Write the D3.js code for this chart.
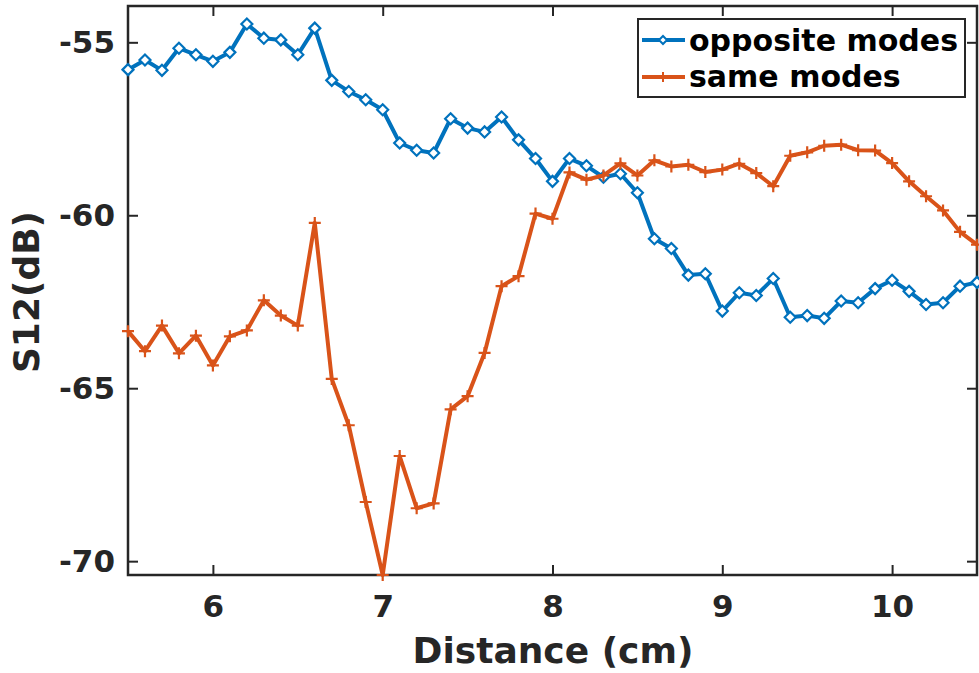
<!DOCTYPE html>
<html>
<head>
<meta charset="utf-8">
<script src="https://cdn.jsdelivr.net/npm/d3@7"></script>
<style>
  body { margin: 0; background: #fff; }
  svg { display: block; font-family: 'DejaVu Sans', sans-serif; font-weight: bold; }
</style>
</head>
<body>
<script>
/*
 * S12 vs distance, two mode configurations.
 */

const distances = [
  5.5, 5.6, 5.7, 5.8, 5.9, 6.0, 6.1, 6.2, 6.3, 6.4,
  6.5, 6.6, 6.7, 6.8, 6.9, 7.0, 7.1, 7.2, 7.3, 7.4,
  7.5, 7.6, 7.7, 7.8, 7.9, 8.0, 8.1, 8.2, 8.3, 8.4,
  8.5, 8.6, 8.7, 8.8, 8.9, 9.0, 9.1, 9.2, 9.3, 9.4,
  9.5, 9.6, 9.7, 9.8, 9.9, 10.0, 10.1, 10.2, 10.3, 10.4, 10.5
];

const oppositeModes = [
  -55.79, -55.51, -55.81, -55.17, -55.36, -55.55, -55.29, -54.47, -54.88, -54.93,
  -55.36, -54.59, -56.10, -56.42, -56.66, -56.95, -57.91, -58.12, -58.20, -57.21,
  -57.48, -57.59, -57.16, -57.82, -58.36, -59.02, -58.36, -58.57, -58.90, -58.80,
  -59.35, -60.68, -60.96, -61.73, -61.69, -62.77, -62.24, -62.32, -61.83, -62.95,
  -62.90, -62.98, -62.48, -62.53, -62.12, -61.88, -62.20, -62.58, -62.53, -62.05, -61.94
];

const sameModes = [
  -63.35, -63.93, -63.19, -63.99, -63.48, -64.34, -63.50, -63.33, -62.46, -62.90,
  -63.19, -60.22, -64.73, -66.07, -68.29, -70.40, -66.96, -68.47, -68.33, -65.61,
  -65.23, -63.98, -62.05, -61.76, -59.95, -60.10, -58.76, -58.97, -58.85, -58.50,
  -58.85, -58.41, -58.59, -58.54, -58.75, -58.68, -58.51, -58.78, -59.16, -58.28,
  -58.18, -57.99, -57.96, -58.12, -58.13, -58.49, -59.02, -59.45, -59.86, -60.48, -60.85
];

const xTicks = [6, 7, 8, 9, 10];
const yTicks = [-70, -65, -60, -55];
const seriesNames = ['opposite modes', 'same modes'];
const seriesColors = ['#0072BD', '#D95319'];

const canvasWidth = 979;
const canvasHeight = 673;
const plotLeft = 128;
const plotRight = 977;
const plotTop = 6;
const plotBottom = 575;
const axisColor = '#262626';

const svg = d3.select('body')
  .append('svg')
    .attr('width', canvasWidth)
    .attr('height', canvasHeight);

const xScale = d3.scaleLinear()
    .domain([5.5, 10.5])
    .range([plotLeft, plotRight]);

const yScale = d3.scaleLinear()
    .domain([-70.4, -53.95])
    .range([plotBottom, plotTop]);

/*
 * Axes: MATLAB-style box with inward ticks on all four sides.
 */

const tickLen = 10;
const plainLabel = d => String(d);

const xBottom = d3.axisBottom(xScale).tickValues(xTicks).tickSize(-tickLen)
    .tickPadding(20).tickFormat(plainLabel);
const xTop = d3.axisTop(xScale).tickValues(xTicks).tickSize(-tickLen).tickFormat('');
const yLeft = d3.axisLeft(yScale).tickValues(yTicks).tickSize(-tickLen)
    .tickPadding(13).tickFormat(plainLabel);
const yRight = d3.axisRight(yScale).tickValues(yTicks).tickSize(-tickLen).tickFormat('');

const styleAxis = g => {
  g.select('.domain').remove();
  g.selectAll('.tick line').attr('stroke', axisColor).attr('stroke-width', 2);
  g.selectAll('.tick text')
      .attr('fill', axisColor)
      .style('font-size', '31px')
      .style('font-family', 'DejaVu Sans')
      .style('font-weight', 'bold');
};

svg.append('g')
    .attr('transform', `translate(0, ${plotBottom})`)
    .call(xBottom)
    .call(styleAxis);

svg.append('g')
    .attr('transform', `translate(0, ${plotTop})`)
    .call(xTop)
    .call(styleAxis);

svg.append('g')
    .attr('transform', `translate(${plotLeft}, 0)`)
    .call(yLeft)
    .call(styleAxis);

svg.append('g')
    .attr('transform', `translate(${plotRight}, 0)`)
    .call(yRight)
    .call(styleAxis);

// box
svg.append('rect')
    .attr('x', plotLeft)
    .attr('y', plotTop)
    .attr('width', plotRight - plotLeft)
    .attr('height', plotBottom - plotTop)
    .attr('fill', 'none')
    .attr('stroke', axisColor)
    .attr('stroke-width', 2.5);

// axis labels
svg.append('text')
    .attr('x', 553)
    .attr('y', 663)
    .attr('text-anchor', 'middle')
    .attr('fill', axisColor)
    .style('font-size', '36px')
    .text('Distance (cm)');

svg.append('text')
    .attr('transform', 'translate(39, 292) rotate(-90)')
    .attr('text-anchor', 'middle')
    .attr('fill', axisColor)
    .style('font-size', '36px')
    .text('S12(dB)');

/*
 * Series lines and markers.
 */

const line = d3.line()
    .x(d => xScale(d[0]))
    .y(d => yScale(d[1]));

const diamond = r => `M${-r},0L0,${-r}L${r},0L0,${r}Z`;
const plus = r => `M${-r},0H${r}M0,${-r}V${r}`;

const allSeries = [oppositeModes, sameModes];

allSeries.forEach((values, i) => {
  const pts = distances.map((x, j) => [x, values[j]]);
  const g = svg.append('g');

  g.append('path')
      .datum(pts)
      .attr('d', line)
      .attr('fill', 'none')
      .attr('stroke', seriesColors[i])
      .attr('stroke-width', 4)
      .attr('stroke-linejoin', 'round');

  g.selectAll('path.marker')
    .data(pts)
    .enter()
    .append('path')
      .attr('class', 'marker')
      .attr('transform', d => `translate(${xScale(d[0])}, ${yScale(d[1])})`)
      .attr('d', i === 0 ? diamond(5.5) : plus(6))
      .attr('fill', i === 0 ? '#fff' : 'none')
      .attr('stroke', seriesColors[i])
      .attr('stroke-width', 2.2);
});

/*
 * Legend.
 */

const legend = svg.append('g');

legend.append('rect')
    .attr('x', 638)
    .attr('y', 19)
    .attr('width', 327)
    .attr('height', 78)
    .attr('fill', '#fff')
    .attr('stroke', axisColor)
    .attr('stroke-width', 2);

seriesNames.forEach((name, i) => {
  const ly = i === 0 ? 40 : 77;
  legend.append('line')
      .attr('x1', 642)
      .attr('x2', 685)
      .attr('y1', ly)
      .attr('y2', ly)
      .attr('stroke', seriesColors[i])
      .attr('stroke-width', 4);
  legend.append('path')
      .attr('transform', `translate(663, ${ly})`)
      .attr('d', i === 0 ? diamond(4) : plus(5))
      .attr('fill', i === 0 ? '#fff' : 'none')
      .attr('stroke', seriesColors[i])
      .attr('stroke-width', 2);
  legend.append('text')
      .attr('x', 689)
      .attr('y', i === 0 ? 51 : 87)
      .attr('fill', '#000')
      .style('font-size', '30px')
      .text(name);
});
</script>
</body>
</html>
